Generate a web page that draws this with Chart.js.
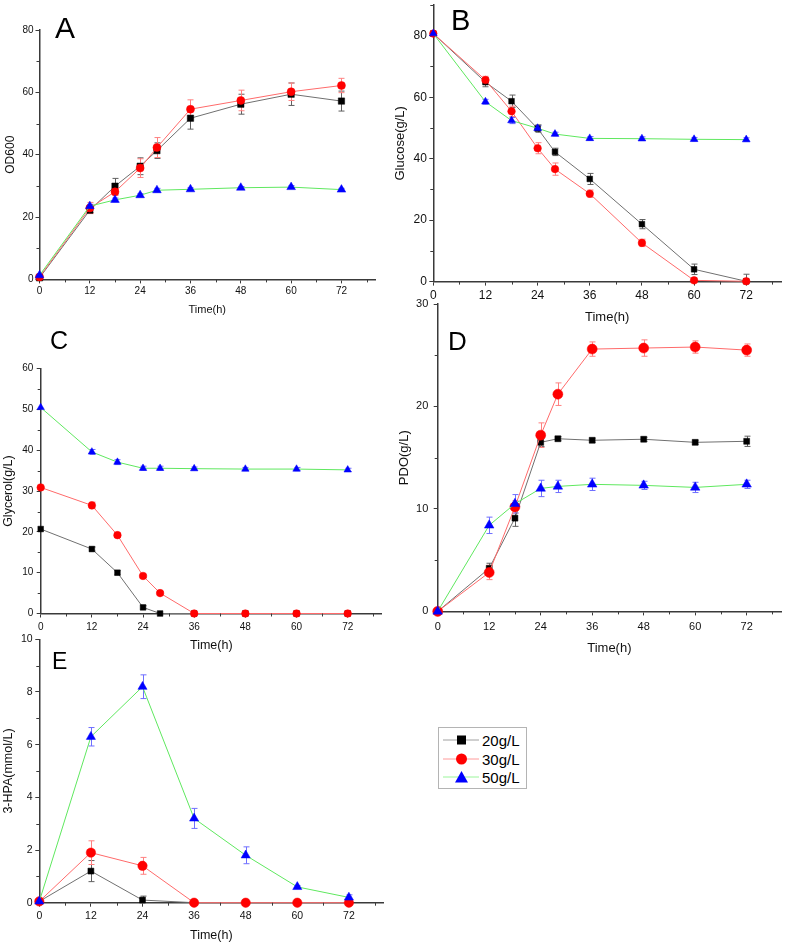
<!DOCTYPE html>
<html>
<head>
<meta charset="utf-8">
<title>Fermentation time course</title>
<script src="https://cdn.jsdelivr.net/npm/chart.js@4.4.1/dist/chart.umd.min.js"></script>
<style>
  body { margin: 0; background: #fff; font-family: "Liberation Sans", Arial, sans-serif; }
  #page { position: relative; width: 787px; height: 944px; overflow: hidden; background: #fff; }
  canvas { position: absolute; }
  .panel-letter { position: absolute; line-height: 1; color: #000; font-family: "Liberation Sans", Arial, sans-serif; }
  #legend { position: absolute; left: 438px; top: 727px; width: 89px; height: 62px; border: 1px solid #b4b4b4; box-sizing: border-box; }
  .legend-row { position: absolute; left: 4px; height: 18px; display: flex; align-items: center; font-size: 15px; white-space: nowrap; }
  .legend-row svg { margin-right: 3px; }
</style>
</head>
<body>
<div id="page">
  <canvas id="chartA" width="390" height="317" style="left:0px;top:0px"></canvas>
  <canvas id="chartB" width="397" height="325" style="left:390px;top:0px"></canvas>
  <canvas id="chartC" width="390" height="323" style="left:0px;top:330px"></canvas>
  <canvas id="chartD" width="397" height="366" style="left:390px;top:290px"></canvas>
  <canvas id="chartE" width="390" height="313" style="left:0px;top:630px"></canvas>

  <div class="panel-letter" style="left:55px;top:13px;font-size:30px">A</div>
  <div class="panel-letter" style="left:451px;top:6px;font-size:29px">B</div>
  <div class="panel-letter" style="left:50px;top:328px;font-size:25px">C</div>
  <div class="panel-letter" style="left:448px;top:328px;font-size:26px">D</div>
  <div class="panel-letter" style="left:52px;top:650px;font-size:23px">E</div>

  <div id="legend"></div>
</div>

<script>
// Sampling times (h) and axis ticks
const hours = [0, 12, 18, 24, 28, 36, 48, 60, 72];
const hpaHours = [0, 12, 24, 36, 48, 60, 72];
const timeTicks = [0, 12, 24, 36, 48, 60, 72];
const timeMinorTicks = [6, 18, 30, 42, 54, 66, 78];
const seriesLabels = ['20g/L', '30g/L', '50g/L'];

// A - OD600
const od20 = [0.5, 22.2, 29.9, 36.3, 41.3, 51.7, 56.2, 59.4, 57.2];
const od20Err = [0, 0.8, 2.5, 2.7, 2.5, 3.5, 3.2, 3.6, 3.2];
const od30 = [0.8, 22.9, 28.1, 35.7, 42.3, 54.6, 57.4, 60.2, 62.2];
const od30Err = [0, 1.8, 1.2, 3.0, 3.2, 3.0, 3.3, 2.8, 2.3];
const od50 = [1.3, 23.5, 25.5, 27.0, 28.6, 28.9, 29.4, 29.6, 28.8];
const od50Err = [0, 0.6, 0.6, 0.5, 0.6, 0.5, 0.4, 0.5, 0.4];
const odTicks = [0, 20, 40, 60, 80];
const odMinor = [10, 30, 50, 70];

// B - Glucose(g/L)
const glc20 = [80.7, 64.9, 58.7, 49.8, 42.2, 33.4, 18.7, 4.0, 0.1];
const glc20Err = [0, 1.5, 2.0, 1.2, 1.2, 1.8, 1.5, 1.7, 2.3];
const glc30 = [80.7, 65.6, 55.4, 43.4, 36.6, 28.6, 12.6, 0.4, 0.1];
const glc30Err = [0, 1.2, 1.7, 1.8, 2.0, 1.2, 1.2, 0.8, 0];
const glc50 = [80.7, 58.5, 52.4, 49.9, 48.0, 46.6, 46.5, 46.3, 46.2];
const glc50Err = [0, 0.8, 1.0, 0.8, 0.6, 0.6, 0.6, 0.6, 0.6];
const glcTicks = [0, 20, 40, 60, 80];
const glcMinor = [10, 30, 50, 70, 90];

// C - Glycerol(g/L)
const gly20 = [20.7, 15.8, 10.0, 1.5, 0, 0, 0, 0, 0];
const gly20Err = [0, 0.5, 0.5, 0.4, 0, 0, 0, 0, 0];
const gly30 = [30.9, 26.5, 19.2, 9.2, 5.0, 0, 0, 0, 0];
const gly30Err = [0, 0.8, 0.5, 0.4, 0.4, 0, 0, 0, 0];
const gly50 = [50.5, 39.6, 37.1, 35.6, 35.6, 35.5, 35.4, 35.4, 35.2];
const gly50Err = [0, 0.6, 0.6, 0.5, 0.5, 0.4, 0.4, 0.4, 0.4];
const glyTicks = [0, 10, 20, 30, 40, 50, 60];
const glyMinor = [5, 15, 25, 35, 45, 55];

// D - PDO(g/L)
const pdo20 = [0, 4.2, 9.1, 16.5, 16.85, 16.7, 16.8, 16.5, 16.6];
const pdo20Err = [0, 0.5, 0.8, 0.4, 0.2, 0.2, 0.2, 0.2, 0.5];
const pdo30 = [0, 3.8, 10.2, 17.2, 21.2, 25.6, 25.7, 25.8, 25.5];
const pdo30Err = [0, 0.7, 0.6, 1.2, 1.1, 0.7, 0.8, 0.6, 0.6];
const pdo50 = [0, 8.4, 10.5, 12.0, 12.2, 12.4, 12.3, 12.1, 12.4];
const pdo50Err = [0, 0.8, 0.9, 0.8, 0.6, 0.6, 0.4, 0.5, 0.4];
const pdoTicks = [0, 10, 20, 30];
const pdoMinor = [5, 15, 25];

// E - 3-HPA(mmol/L)
const hpa20 = [0.05, 1.2, 0.1, 0, 0, 0, 0];
const hpa20Err = [0, 0.4, 0.15, 0, 0, 0, 0];
const hpa30 = [0.05, 1.9, 1.4, 0, 0, 0, 0];
const hpa30Err = [0, 0.45, 0.32, 0, 0, 0, 0];
const hpa50 = [0.05, 6.3, 8.2, 3.2, 1.8, 0.6, 0.2];
const hpa50Err = [0, 0.35, 0.45, 0.38, 0.32, 0.05, 0.1];
const hpaTicks = [0, 2, 4, 6, 8, 10];
const hpaMinor = [1, 3, 5, 7, 9];

const FONT = '"Liberation Sans", Arial, sans-serif';
const axisColor = '#3a3a3a';
var lineColors = ['#707070', '#ff6a6a', '#5fe85f']; // connecting lines
var markerColors = ['#000000', '#ff0000', '#0000ff'];
var errorColors = ['#606060', '#ff8080', '#6f6fff'];
var markerStyles = ['rect', 'circle', 'triangle'];

// Draws the vertical error bars (with caps) under the markers
const errorBars = {
    id: 'errorBars',
    beforeDatasetsDraw(chart) {
        const {ctx, scales: {x, y}} = chart;
        chart.data.datasets.forEach(ds => {
            if (!ds.errors) return;
            ctx.save();
            ctx.strokeStyle = ds.errorColor;
            ctx.lineWidth = 1;
            ds.data.forEach((pt, j) => {
                const e = ds.errors[j];
                if (!e) return;
                const px = Math.round(x.getPixelForValue(pt.x)) + 0.5;
                const top = y.getPixelForValue(pt.y + e);
                const bot = y.getPixelForValue(Math.max(pt.y - e, y.min));
                ctx.beginPath();
                ctx.moveTo(px, top); ctx.lineTo(px, bot);
                ctx.moveTo(px - 3, top); ctx.lineTo(px + 3, top);
                if (pt.y - e > y.min) { ctx.moveTo(px - 3, bot); ctx.lineTo(px + 3, bot); }
                ctx.stroke();
            });
            ctx.restore();
        });
    }
};

// Short minor tick marks outside the axes
const minorTicks = {
    id: 'minorTicks',
    afterDraw(chart, args, opts) {
        const {ctx, scales: {x, y}} = chart;
        ctx.save();
        ctx.strokeStyle = axisColor;
        ctx.lineWidth = 1;
        ctx.beginPath();
        (opts.x || []).forEach(v => {
            const px = Math.round(x.getPixelForValue(v)) + 0.5;
            ctx.moveTo(px, x.top); ctx.lineTo(px, x.top + 3);
        });
        (opts.y || []).forEach(v => {
            const py = Math.round(y.getPixelForValue(v)) + 0.5;
            ctx.moveTo(y.right, py); ctx.lineTo(y.right - 3, py);
        });
        ctx.stroke();
        ctx.restore();
    }
};

function buildPanel(canvasId, p) {
    const datasets = p.series.map((s, i) => ({
        label: seriesLabels[i],
        data: p.x.map((h, j) => ({x: h, y: s[0][j]})),
        errors: s[1],
        errorColor: errorColors[i],
        borderColor: lineColors[i],
        borderWidth: 1,
        backgroundColor: markerColors[i],
        pointBackgroundColor: markerColors[i],
        pointBorderColor: markerColors[i],
        pointBorderWidth: 0.5,
        pointStyle: markerStyles[i],
        pointRadius: p.radius[i],
        tension: 0,
        clip: false,
        order: 3 - i
    }));

    return new Chart(canvasId, {
        type: 'line',
        data: {datasets: datasets},
        plugins: [errorBars, minorTicks],
        options: {
            responsive: false,
            animation: false,
            events: [],
            layout: {padding: {left: 0, top: p.padTop, right: p.padRight, bottom: 0}},
            plugins: {
                legend: {display: false},
                tooltip: {enabled: false},
                minorTicks: {x: timeMinorTicks, y: p.yMinor}
            },
            scales: {
                x: {
                    type: 'linear',
                    min: 0,
                    max: 80,
                    afterBuildTicks: s => { s.ticks = timeTicks.map(v => ({value: v})); },
                    afterFit: s => { s.height = p.xHeight; s.paddingLeft = 0; s.paddingRight = 0; },
                    grid: {drawOnChartArea: false, drawTicks: true, tickLength: 4, color: axisColor},
                    border: {display: true, color: axisColor, width: 1.5},
                    ticks: {color: '#111', padding: p.xPad, maxRotation: 0, font: {family: FONT, size: p.tickSize}},
                    title: {display: true, text: 'Time(h)', color: '#111', padding: {top: 0, bottom: 0},
                            font: {family: FONT, size: p.xTitleSize}}
                },
                y: {
                    type: 'linear',
                    min: 0,
                    max: p.yMax,
                    afterBuildTicks: s => { s.ticks = p.yTicks.map(v => ({value: v})); },
                    afterFit: s => { s.width = p.yWidth; s.paddingTop = 0; s.paddingBottom = 0; },
                    grid: {drawOnChartArea: false, drawTicks: true, tickLength: 4, color: axisColor},
                    border: {display: true, color: axisColor, width: 1.5},
                    ticks: {color: '#111', padding: p.yPad, font: {family: FONT, size: p.tickSize}},
                    title: {display: true, text: p.yTitle, color: '#111', padding: {top: p.yTitlePad, bottom: 0},
                            font: {family: FONT, size: p.yTitleSize}}
                }
            }
        }
    });
}

buildPanel('chartA', {
    x: hours, series: [[od20, od20Err], [od30, od30Err], [od50, od50Err]],
    yMax: 80, yTicks: odTicks, yMinor: odMinor, yTitle: 'OD600',
    padTop: 30, padRight: 15, yWidth: 39.5, xHeight: 37.6,
    xPad: 2, yPad: 2, tickSize: 10, xTitleSize: 11, yTitleSize: 12, yTitlePad: 3,
    radius: [4.5, 4, 5]
});

buildPanel('chartB', {
    x: hours, series: [[glc20, glc20Err], [glc30, glc30Err], [glc50, glc50Err]],
    yMax: 90, yTicks: glcTicks, yMinor: glcMinor, yTitle: 'Glucose(g/L)',
    padTop: 1.2, padRight: 6, yWidth: 43.3, xHeight: 43.4,
    xPad: 3, yPad: 2.5, tickSize: 12, xTitleSize: 13, yTitleSize: 13, yTitlePad: 2.2,
    radius: [4, 3.8, 4.5]
});

buildPanel('chartC', {
    x: hours, series: [[gly20, gly20Err], [gly30, gly30Err], [gly50, gly50Err]],
    yMax: 60, yTicks: glyTicks, yMinor: glyMinor, yTitle: 'Glycerol(g/L)',
    padTop: 38.7, padRight: 8.2, yWidth: 40.7, xHeight: 39.5,
    xPad: 3.4, yPad: 3.4, tickSize: 10, xTitleSize: 12.5, yTitleSize: 12.5, yTitlePad: 1.2,
    radius: [4, 3.8, 4.3]
});

buildPanel('chartD', {
    x: hours, series: [[pdo20, pdo20Err], [pdo30, pdo30Err], [pdo50, pdo50Err]],
    yMax: 30, yTicks: pdoTicks, yMinor: pdoMinor, yTitle: 'PDO(g/L)',
    padTop: 14, padRight: 2, yWidth: 47.7, xHeight: 44.6,
    xPad: 5, yPad: 5.4, tickSize: 11, xTitleSize: 13, yTitleSize: 13, yTitlePad: 6.4,
    radius: [4.2, 5, 5.5]
});

buildPanel('chartE', {
    x: hpaHours, series: [[hpa20, hpa20Err], [hpa30, hpa30Err], [hpa50, hpa50Err]],
    yMax: 10, yTicks: hpaTicks, yMinor: hpaMinor, yTitle: '3-HPA(mmol/L)',
    padTop: 9.3, padRight: 6.7, yWidth: 39.3, xHeight: 40.3,
    xPad: 2.7, yPad: 2.6, tickSize: 10.5, xTitleSize: 12.5, yTitleSize: 12.5, yTitlePad: 1.5,
    radius: [4.2, 4.7, 5.3]
});

// Legend: line sample + marker + label, one row per series
function markerSvg(i) {
    let shape;
    if (i === 0) shape = '<rect x="14" y="4.5" width="9" height="9" fill="#000"/>';
    else if (i === 1) shape = '<circle cx="18.5" cy="9" r="5.5" fill="#f00"/>';
    else shape = '<polygon points="18.5,3 25,14.5 12,14.5" fill="#00f"/>';
    return '<svg width="36" height="18"><line x1="0" y1="9" x2="36" y2="9" stroke="' +
        ['#a0a0a0', '#ff9a9a', '#9af59a'][i] + '" stroke-width="1"/>' + shape + '</svg>';
}

const legend = document.getElementById('legend');
const rowTops = [3, 22, 40];
seriesLabels.forEach((label, i) => {
    const row = document.createElement('div');
    row.className = 'legend-row';
    row.style.top = rowTops[i] + 'px';
    row.innerHTML = markerSvg(i) + '<span>' + label + '</span>';
    legend.appendChild(row);
});
</script>
</body>
</html>
